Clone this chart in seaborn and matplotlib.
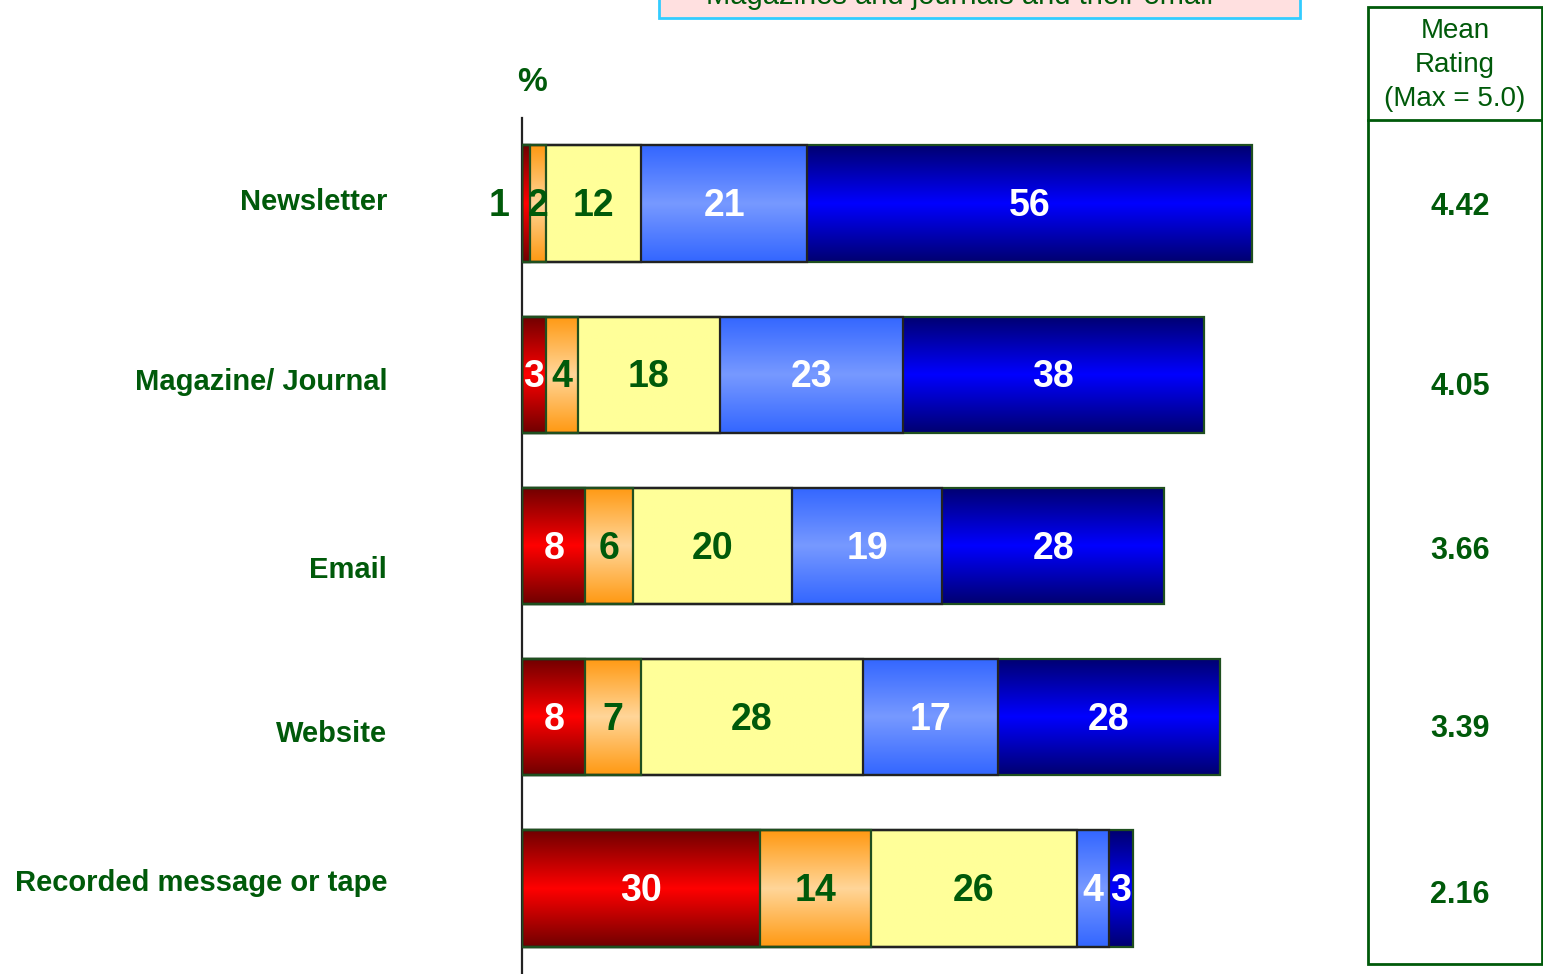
import numpy as np
import pandas as pd
import matplotlib
matplotlib.use("Agg")
import matplotlib.pyplot as plt
from matplotlib.patches import Rectangle
from matplotlib.lines import Line2D
import seaborn as sns

# ------------------------------------------------------
# Data
# ------------------------------------------------------
categories = ["Newsletter", "Magazine/ Journal", "Email", "Website",
              "Recorded message or tape"]
very_poor = [1, 3, 8, 8, 30]
poor = [2, 4, 6, 7, 14]
average = [12, 18, 20, 28, 26]
good = [21, 23, 19, 17, 4]
excellent = [56, 38, 28, 28, 3]
mean_rating = ["4.42", "4.05", "3.66", "3.39", "2.16"]

title_text = "Magazines and journals and their email"
mean_header = "Mean\nRating\n(Max = 5.0)"

GREEN = "#005a0a"

# edge colour, middle colour, outline colour, label colour
seg_styles = [
    ("#700000", "#ff0000", "#1f4f1f", "white"),
    ("#ff9912", "#ffd699", "#1f4f1f", GREEN),
    ("#ffff99", "#ffff99", "#222222", GREEN),
    ("#3366ff", "#7799ff", "#222222", "white"),
    ("#000070", "#0000ff", "#1f4f1f", "white"),
]

# small vertical nudges of the side texts, as in the original slide
label_nudge = [-0.01, 0.04, 0.14, 0.10, -0.03]
mean_nudge = [0.02, 0.07, 0.03, 0.07, 0.04]

segments = np.array([very_poor, poor, average, good, excellent]).T
cum = segments.cumsum(axis=1)

plt.rcParams["font.family"] = ["Liberation Sans", "DejaVu Sans"]

fig = plt.figure(figsize=(15.43, 9.74), dpi=100)
ax = fig.add_axes([522 / 1543, 0.0, 793 / 1543, 1 - 118 / 974])

# stacked bars: draw the cumulative totals from the last segment backwards
bar_h = 0.68
for j in range(segments.shape[1] - 1, -1, -1):
    df = pd.DataFrame({"cat": categories, "val": cum[:, j]})
    sns.barplot(data=df, x="val", y="cat", orient="h", color=seg_styles[j][1],
                width=bar_h, ax=ax, order=categories)

# replace flat fills with vertical gradients per segment
n_seg = segments.shape[1]
for k, patch in enumerate(ax.patches):
    j = n_seg - 1 - k // len(categories)
    i = k % len(categories)
    edge_c, mid_c, line_c, _ = seg_styles[j]
    x1 = cum[i, j]
    x0 = x1 - segments[i, j]
    y0 = patch.get_y()
    h = patch.get_height()
    t = np.abs(np.linspace(-1, 1, 200))[:, None]
    c0 = np.array(matplotlib.colors.to_rgb(mid_c))
    c1 = np.array(matplotlib.colors.to_rgb(edge_c))
    img = (c0 * (1 - t) + c1 * t)[:, None, :]
    ax.imshow(img, extent=[x0, x1, y0 + h, y0], aspect="auto", zorder=2,
              interpolation="bilinear")
    patch.set_facecolor("none")
    patch.set_edgecolor(line_c)
    patch.set_linewidth(1.6)
    patch.set_zorder(3)

# value labels, category names and mean ratings
for i in range(len(categories)):
    for j in range(n_seg):
        v = segments[i, j]
        xc = cum[i, j] - v / 2
        if v <= 1:
            xc = -2.9
        ax.text(xc, i + 0.015, str(v), ha="center", va="center", fontsize=27,
                fontweight="bold", color=seg_styles[j][3] if v > 1 else GREEN,
                zorder=5, clip_on=False)
    ax.text(-17.0, i + label_nudge[i], categories[i], ha="right", va="center",
            fontsize=21, fontweight="bold", color=GREEN, clip_on=False)
    ax.text(118.3, i + mean_nudge[i], mean_rating[i], ha="center",
            va="center", fontsize=22, fontweight="bold", color=GREEN,
            clip_on=False)

ax.set_xlim(0, 100)
ax.set_ylim(4.5, -0.5)
ax.set_xlabel("")
ax.set_ylabel("")
ax.set_xticks([])
ax.set_yticks([])
for s in ["top", "right", "bottom"]:
    ax.spines[s].set_visible(False)
ax.spines["left"].set_color("#222222")
ax.spines["left"].set_linewidth(1.6)
ax.set_facecolor("none")

ax.text(1.3, -0.71, "%", ha="center", va="center", fontsize=24,
        fontweight="bold", color=GREEN, clip_on=False)

# mean rating panel
fig.add_artist(Rectangle((1368 / 1543, 1 - 964 / 974), 174 / 1543, 957 / 974,
                         transform=fig.transFigure, fill=False,
                         edgecolor=GREEN, linewidth=2))
fig.add_artist(Line2D([1368 / 1543, 1.0], [1 - 120 / 974] * 2,
                      transform=fig.transFigure, color=GREEN, linewidth=2))
fig.text(1455 / 1543, 1 - 65 / 974, mean_header, ha="center", va="center",
         fontsize=20, color=GREEN, linespacing=1.38)

# title box, cut off at the top edge
fig.add_artist(Rectangle((659 / 1543, 1 - 18 / 974), 641 / 1543, 0.05,
                         transform=fig.transFigure, facecolor="#ffe0e0",
                         edgecolor="#33ccff", linewidth=2))
fig.text(960 / 1543, 1 - 4 / 974, title_text, ha="center", va="baseline",
         fontsize=21, color=GREEN)

fig.savefig("out.png", dpi=100)
